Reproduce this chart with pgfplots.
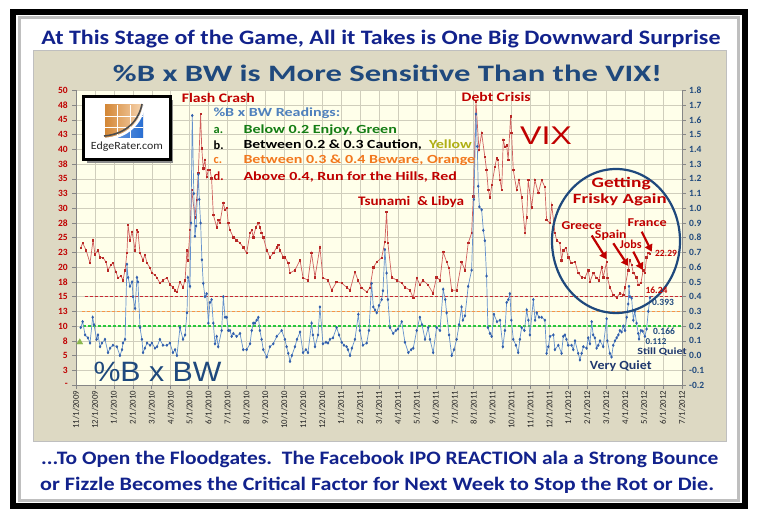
\documentclass[border=0pt]{standalone}
\usepackage{graphicx}
\usepackage{pgfplots}
\pgfplotsset{compat=1.18}
\usepackage{fontspec}
\setmainfont{Carlito}
\newfontfamily\arialf{Liberation Sans}
\usetikzlibrary{arrows.meta}

\definecolor{navyT}{RGB}{18,34,140}
\definecolor{ctitle}{RGB}{31,73,125}
\definecolor{panel}{RGB}{221,217,195}
\definecolor{plotbg}{RGB}{255,255,234}
\definecolor{gridc}{RGB}{208,206,188}
\definecolor{axisgray}{RGB}{134,134,134}
\definecolor{annred}{RGB}{192,0,0}
\definecolor{vixline}{RGB}{208,96,94}
\definecolor{vixmark}{RGB}{185,40,38}
\definecolor{bwline}{RGB}{100,145,205}
\definecolor{bwmark}{RGB}{50,95,172}
\definecolor{legblue}{RGB}{79,129,189}
\definecolor{leggreen}{RGB}{20,125,20}
\definecolor{legorange}{RGB}{242,120,30}
\definecolor{legyellow}{RGB}{175,175,20}
\definecolor{dashred}{RGB}{200,40,50}
\definecolor{dashorange}{RGB}{247,150,70}
\definecolor{dashgreen}{RGB}{40,200,60}
\definecolor{trigreen}{RGB}{140,185,80}
\definecolor{quietblue}{RGB}{31,56,110}
\definecolor{logoorange}{RGB}{235,150,60}
\definecolor{logoblue}{RGB}{40,110,210}

% set text at a size, then stretch it to a given width
\newcommand{\fitw}[3]{\resizebox{#1}{\height}{\fontsize{#2}{#2}\selectfont #3}}

\pgfplotsset{base/.style={at={(76pt,131pt)}, anchor=south west,
    width=606pt, height=294.5pt, scale only axis, xmin=0, xmax=32,
    tick align=outside, major tick length=4pt,
    tick style={draw=axisgray, line width=0.6pt},
    axis line style={draw=axisgray, line width=0.6pt}}}

\begin{document}
\begin{tikzpicture}
\useasboundingbox (0,0) rectangle (758pt,516pt);
\fill[white] (0,0) rectangle (758pt,516pt);

% frame, titles, panel
\begin{scope}[x=1pt,y=-1pt,shift={(0pt,516pt)}, every node/.style={inner sep=0pt}]
\fill[black!25] (18,16) rectangle (740,502);
\fill[white] (21,19) rectangle (737,499);
\draw[black, line width=6pt] (13,12) rectangle (745,506);
\node[anchor=base, text=navyT] at (381,45)
  {\fitw{679pt}{20.5}{\bfseries At This Stage of the Game, All it Takes is One Big Downward Surprise}};
\fill[panel] (33,50) rectangle (726,441);
\draw[black!25, line width=0.6pt] (33,50) rectangle (726,441);
\node[anchor=base, text=ctitle] at (387.5,82)
  {\fitw{549pt}{23.5}{\bfseries\%B x BW is More Sensitive Than the VIX!}};
\node[anchor=base west, text=navyT] at (41,465)
  {\fitw{677pt}{19}{\bfseries ...To Open the Floodgates.\ \ The Facebook IPO REACTION ala a Strong Bounce}};
\node[anchor=base west, text=navyT] at (40,491)
  {\fitw{674pt}{19}{\bfseries or Fizzle Becomes the Critical Factor for Next Week to Stop the Rot or Die.}};
\end{scope}

% VIX, left axis
\begin{axis}[base, ymin=0, ymax=50,
    axis background/.style={fill=plotbg},
    axis x line*=bottom, axis y line*=left,
    xtick={0,...,32},
    xticklabels={11/1/2009,12/1/2009,1/1/2010,2/1/2010,3/1/2010,4/1/2010,5/1/2010,6/1/2010,7/1/2010,8/1/2010,9/1/2010,10/1/2010,11/1/2010,12/1/2010,1/1/2011,2/1/2011,3/1/2011,4/1/2011,5/1/2011,6/1/2011,7/1/2011,8/1/2011,9/1/2011,10/1/2011,11/1/2011,12/1/2011,1/1/2012,2/1/2012,3/1/2012,4/1/2012,5/1/2012,6/1/2012,7/1/2012},
    xticklabel style={rotate=90, anchor=east, font=\fontsize{8.8}{9}\selectfont, text=black!85, inner sep=1.5pt},
    ytick={0,2.5,5,7.5,10,12.5,15,17.5,20,22.5,25,27.5,30,32.5,35,37.5,40,42.5,45,47.5,50},
    yticklabels={-,3,5,8,10,13,15,18,20,23,25,28,30,33,35,38,40,43,45,48,50},
    yticklabel style={font=\bfseries\fontsize{9.5}{10}\selectfont, text=annred, inner sep=1pt, xshift=-3pt},
    grid=major, major grid style={draw=gridc, line width=0.5pt},
]
\addplot[draw=vixline, line width=0.7pt, mark=square*, mark size=0.75pt,
    mark options={fill=vixmark, draw=vixmark}] coordinates {
(0.25,23.3) (0.35,24.1) (0.53,22.9) (0.74,20.7) (0.90,24.6) (1.00,22.2) (1.16,22.9) (1.27,21.7)
(1.43,21.6) (1.58,20.9) (1.69,19.5) (1.85,20.4) (1.95,20.7) (2.11,19.2) (2.22,18.2) (2.38,18.5)
(2.48,17.8) (2.59,19.5) (2.69,22.4) (2.75,27.2) (2.85,24.6) (2.96,26.0) (3.12,22.9) (3.22,26.3)
(3.27,26.0) (3.38,22.4) (3.54,21.2) (3.64,22.1) (3.75,20.7) (3.91,19.9) (4.01,19.0) (4.17,18.7)
(4.28,18.2) (4.43,17.3) (4.59,17.8) (4.80,18.2) (4.96,17.1) (5.12,16.6) (5.23,16.1) (5.33,15.8)
(5.49,17.5) (5.65,16.6) (5.76,17.8) (5.86,22.9) (5.91,21.2) (6.02,26.3) (6.11,33.1) (6.28,28.5)
(6.37,31.4) (6.46,36.0) (6.58,46.0) (6.64,40.2) (6.72,36.8) (6.81,38.2) (6.90,35.3) (6.99,36.5)
(7.07,36.5) (7.16,35.1) (7.25,28.9) (7.43,26.8) (7.51,28.0) (7.60,27.5) (7.78,30.9) (7.87,29.7)
(7.96,30.1) (8.04,27.5) (8.13,26.3) (8.31,25.1) (8.48,24.6) (8.66,24.1) (8.83,23.4) (9.01,22.4)
(9.19,25.8) (9.28,26.3) (9.36,25.1) (9.50,26.8) (9.63,27.5) (9.71,26.8) (9.80,25.8) (9.89,25.1)
(10.07,22.9) (10.24,21.7) (10.42,22.4) (10.60,23.4) (10.68,23.8) (10.77,22.9) (10.95,21.7) (11.03,21.7)
(11.21,20.7) (11.30,19.0) (11.56,19.5) (11.83,21.2) (11.99,18.2) (12.25,17.8) (12.44,22.4) (12.62,18.3)
(12.88,23.4) (13.04,18.2) (13.31,17.8) (13.50,16.1) (13.76,17.5) (14.03,17.3) (14.29,16.6) (14.47,16.1)
(14.73,19.2) (14.89,17.8) (15.08,16.5) (15.35,15.8) (15.52,16.5) (15.70,20.0) (15.89,20.9) (16.14,21.6)
(16.31,24.3) (16.40,29.4) (16.47,24.1) (16.67,18.3) (16.93,17.8) (17.20,17.3) (17.37,16.6) (17.63,16.1)
(17.81,14.8) (17.99,18.2) (18.16,17.0) (18.32,17.8) (18.59,17.0) (18.85,15.6) (19.04,18.3) (19.22,17.8)
(19.39,22.6) (19.57,20.9) (19.69,19.9) (19.84,16.1) (20.10,16.1) (20.36,20.9) (20.54,19.5) (20.71,24.1)
(20.89,25.8) (20.98,32.0) (21.12,48.1) (21.28,39.9) (21.42,42.8) (21.59,38.7) (21.68,36.5) (21.77,33.1)
(21.86,31.9) (21.96,34.0) (22.12,37.0) (22.21,38.5) (22.28,38.2) (22.39,34.8) (22.48,33.1) (22.56,41.6)
(22.65,40.4) (22.74,40.7) (22.82,38.2) (22.95,45.6) (23.00,42.8) (23.09,36.5) (23.27,33.1) (23.39,34.8)
(23.53,31.9) (23.71,25.8) (23.80,28.5) (23.88,34.8) (24.06,30.2) (24.23,34.8) (24.41,32.6) (24.59,34.8)
(24.76,33.6) (24.85,28.0) (25.03,27.5) (25.12,30.6) (25.29,25.8) (25.38,24.6) (25.55,24.1) (25.64,21.2)
(25.73,22.9) (25.87,23.3) (25.99,21.7) (26.17,20.7) (26.35,20.9) (26.52,19.0) (26.70,18.3) (26.87,18.2)
(27.05,19.5) (27.14,17.5) (27.31,19.0) (27.49,18.2) (27.61,17.8) (27.76,20.0) (27.84,18.3) (28.02,20.9)
(28.06,18.2) (28.19,16.6) (28.37,15.3) (28.55,14.8) (28.72,15.6) (28.90,15.3) (28.99,16.6) (29.16,19.5)
(29.25,21.2) (29.34,20.4) (29.43,19.0) (29.60,18.3) (29.69,17.0) (29.83,17.3) (29.95,19.5) (30.04,19.0)
(30.13,21.7) (30.22,22.4) (30.31,22.29)
};
\end{axis}

% %B x BW, right axis
\begin{axis}[base, ymin=-0.2, ymax=1.8,
    axis y line*=right, axis x line=none, xtick=\empty,
    ytick={-0.2,-0.1,0,0.1,0.2,0.3,0.4,0.5,0.6,0.7,0.8,0.9,1.0,1.1,1.2,1.3,1.4,1.5,1.6,1.7,1.8},
    yticklabels={-0.2,-0.1,0.0,0.1,0.2,0.3,0.4,0.5,0.6,0.7,0.8,0.9,1.0,1.1,1.2,1.3,1.4,1.5,1.6,1.7,1.8},
    yticklabel style={font=\bfseries\fontsize{9.5}{10}\selectfont, text=ctitle, inner sep=1pt, xshift=2pt},
]
\addplot[draw=dashred, line width=1.3pt, dash pattern=on 3pt off 2pt] coordinates {(0.45,0.4) (32,0.4)};
\addplot[draw=dashorange, line width=1.3pt, dash pattern=on 3pt off 2pt] coordinates {(0.30,0.3) (32,0.3)};
\addplot[draw=dashgreen, line width=1.3pt, dash pattern=on 3pt off 2pt] coordinates {(0.35,0.2) (32,0.2)};
\addplot[only marks, mark=triangle*, mark size=3.5pt, mark options={fill=trigreen, draw=trigreen}] coordinates {(0.2,0.09)};
\addplot[draw=bwline, line width=0.7pt, mark=diamond*, mark size=1.1pt,
    mark options={fill=bwmark, draw=bwmark}] coordinates {
(0.25,0.19) (0.35,0.23) (0.48,0.14) (0.63,0.12) (0.74,0.085) (0.88,0.26) (0.95,0.21) (1.09,0.11)
(1.16,0.14) (1.27,0.06) (1.37,0.085) (1.53,0.11) (1.69,0.02) (1.80,0.05) (1.95,0.07) (2.16,0.06)
(2.32,0.0) (2.43,0.04) (2.48,0.085) (2.59,0.11) (2.69,0.62) (2.75,0.53) (2.85,0.47) (2.96,0.50)
(3.01,0.40) (3.12,0.32) (3.22,0.53) (3.27,0.50) (3.38,0.19) (3.48,0.11) (3.54,0.02) (3.64,0.05)
(3.75,0.085) (3.91,0.07) (4.01,0.085) (4.17,0.05) (4.28,0.06) (4.43,0.11) (4.59,0.07) (4.80,0.07)
(4.96,0.085) (5.12,0.02) (5.23,0.04) (5.33,0.0) (5.49,0.19) (5.65,0.11) (5.76,0.14) (5.86,0.29)
(5.91,0.53) (6.02,0.47) (6.07,0.90) (6.14,1.63) (6.22,1.10) (6.28,0.81) (6.34,0.88) (6.46,1.23)
(6.51,1.06) (6.58,0.90) (6.65,0.65) (6.72,0.49) (6.81,0.40) (6.90,0.42) (6.99,0.22) (7.07,0.36)
(7.16,0.38) (7.25,0.22) (7.34,0.08) (7.43,0.13) (7.51,0.06) (7.69,0.17) (7.78,0.40) (7.87,0.26)
(7.96,0.26) (8.04,0.17) (8.13,0.17) (8.22,0.13) (8.31,0.15) (8.48,0.13) (8.66,0.15) (8.83,0.04)
(9.01,0.04) (9.19,0.08) (9.28,0.17) (9.36,0.22) (9.45,0.22) (9.54,0.24) (9.63,0.26) (9.71,0.17)
(9.80,0.11) (9.89,0.04) (10.07,-0.01) (10.24,0.06) (10.42,0.08) (10.60,0.13) (10.86,0.17) (11.03,0.11)
(11.12,0.06) (11.21,0.015) (11.30,-0.04) (11.40,0.0) (11.56,0.06) (11.67,0.11) (11.83,0.16) (11.99,0.02)
(12.14,0.04) (12.25,0.02) (12.44,0.22) (12.51,0.14) (12.62,0.06) (12.78,0.14) (12.88,0.33) (13.04,0.08)
(13.20,0.09) (13.31,0.085) (13.41,0.11) (13.57,0.12) (13.76,0.19) (13.89,0.14) (14.03,0.09) (14.15,0.07)
(14.29,0.06) (14.36,0.04) (14.47,0.0) (14.57,0.05) (14.73,0.11) (14.91,0.28) (14.99,0.17) (15.15,0.07)
(15.35,0.085) (15.47,0.17) (15.61,0.49) (15.70,0.33) (15.79,0.31) (15.88,0.29) (16.00,0.34) (16.14,0.38)
(16.21,0.44) (16.31,0.72) (16.40,0.56) (16.47,0.38) (16.58,0.19) (16.75,0.15) (16.89,0.17) (17.00,0.18)
(17.20,0.23) (17.37,0.09) (17.55,0.02) (17.70,0.04) (17.81,0.05) (17.99,0.17) (18.16,0.26) (18.27,0.21)
(18.43,0.11) (18.60,0.19) (18.69,0.11) (18.86,0.02) (19.04,0.19) (19.22,0.17) (19.39,0.45) (19.50,0.38)
(19.57,0.29) (19.70,0.14) (19.84,0.0) (19.96,0.04) (20.10,0.11) (20.23,0.21) (20.36,0.33) (20.43,0.24)
(20.54,0.27) (20.71,0.47) (20.89,0.58) (21.01,1.06) (21.12,1.64) (21.19,1.42) (21.24,1.15) (21.30,1.01)
(21.42,0.99) (21.51,0.85) (21.59,0.78) (21.68,0.54) (21.75,0.19) (21.86,0.15) (21.95,0.13) (22.07,0.28)
(22.23,0.23) (22.39,0.24) (22.54,0.06) (22.65,0.17) (22.74,0.36) (22.83,0.38) (22.91,0.42) (22.99,0.24)
(23.09,0.11) (23.23,0.07) (23.35,0.02) (23.44,0.11) (23.53,0.19) (23.68,0.17) (23.80,0.31) (23.89,0.24)
(23.97,0.14) (24.15,0.38) (24.24,0.24) (24.33,0.29) (24.45,0.26) (24.59,0.26) (24.76,0.24) (24.85,0.015)
(24.94,0.06) (25.03,0.13) (25.21,0.14) (25.29,0.04) (25.47,0.07) (25.64,0.015) (25.73,0.13) (25.82,0.14)
(25.90,0.11) (25.99,0.07) (26.17,0.07) (26.26,0.04) (26.35,0.10) (26.52,0.015) (26.61,-0.03) (26.70,0.015)
(26.79,0.06) (26.96,0.05) (27.05,0.12) (27.14,0.08) (27.23,0.23) (27.31,0.14) (27.40,0.12) (27.49,0.05)
(27.58,0.07) (27.67,0.10) (27.84,0.06) (28.02,0.25) (28.06,0.10) (28.19,0.015) (28.28,-0.01) (28.37,0.07)
(28.46,0.10) (28.55,0.12) (28.64,0.14) (28.72,0.17) (28.81,0.16) (28.90,0.20) (28.99,0.17) (29.08,0.26)
(29.16,0.35) (29.20,0.47) (29.25,0.40) (29.34,0.39) (29.43,0.24) (29.51,0.30) (29.60,0.22) (29.69,0.15)
(29.73,0.112) (29.83,0.17) (29.92,0.166) (30.04,0.13) (30.13,0.18) (30.22,0.30) (30.31,0.393)
};
\end{axis}

% annotations
\begin{scope}[x=1pt,y=-1pt,shift={(0pt,516pt)}, every node/.style={inner sep=0pt}]
% logo
\fill[black!45] (86.5,100) rectangle (173,163);
\fill[white] (83.3,96.7) rectangle (170,160);
\draw[black, line width=3pt] (83.3,96.7) rectangle (170,160);
\shade[left color=logoorange!90!black, right color=logoorange!40] (105,105) rectangle (143,138);
\shade[left color=logoblue!60, right color=logoblue] (105,138) .. controls (128,136) and (141,122) .. (143,105) -- (143,138) -- cycle;
\foreach \gx in {117.7,130.3} \draw[white, line width=0.6pt] (\gx,105) -- (\gx,138);
\foreach \gy in {116,127} \draw[white, line width=0.6pt] (105,\gy) -- (143,\gy);
\draw[white, line width=2.5pt] (105,139) .. controls (128,137) and (141,123) .. (144,106);
\draw[black!70, line width=1.6pt] (104,136) .. controls (127,134) and (139,120) .. (142,104);
\node[text=black!85] at (127,147) {\fitw{72pt}{11}{EdgeRater.com}};

% event labels
\node[text=annred] at (218.3,98) {\fitw{73pt}{13}{\bfseries Flash Crash}};
\node[text=annred] at (496.2,97) {\fitw{69pt}{13}{\bfseries Debt Crisis}};
\node[text=annred] at (411,202) {\fitw{106pt}{13}{\bfseries Tsunami\ \ \& Libya}};
\node[text=annred] at (546,136) {\fitw{52pt}{25.6}{\arialf VIX}};
\node[text=ctitle] at (157.5,372) {\fitw{128pt}{28}{\arialf\%B x BW}};

% legend text
\begin{scope}[every node/.style={inner sep=0pt, anchor=west, font=\bfseries\fontsize{12.4}{14}\selectfont}]
\node[text=legblue] at (213.3,113.3) {\fitw{126.7pt}{12.4}{\bfseries\%B x BW Readings:}};
\node[text=leggreen] at (213.5,130) {a.};
\node[text=leggreen] at (243.3,130) {\fitw{153.4pt}{12.4}{\bfseries Below 0.2 Enjoy, Green}};
\node[text=black] at (213.5,145) {b.};
\node[text=black] at (243.3,145) {\fitw{228.4pt}{12.4}{\bfseries Between 0.2 \& 0.3 Caution,\ \ \textcolor{legyellow}{Yellow}}};
\node[text=legorange] at (213.5,160.7) {c.};
\node[text=legorange] at (243.3,160.7) {\fitw{231.7pt}{12.4}{\bfseries Between 0.3 \& 0.4 Beware, Orange}};
\node[text=annred] at (213.5,176.7) {d.};
\node[text=annred] at (243.3,176.7) {\fitw{213.4pt}{12.4}{\bfseries Above 0.4, Run for the Hills, Red}};
\end{scope}

% circle and arrows
\draw[ctitle, line width=2.2pt] (616,241) ellipse [x radius=64pt, y radius=72pt];
\node[text=annred] at (621.2,184) {\fitw{59pt}{14.5}{\bfseries Getting}};
\node[text=annred] at (619.8,199.5) {\fitw{93.7pt}{14}{\bfseries Frisky Again}};
\node[text=annred] at (581.7,226) {\fitw{40pt}{12}{\bfseries Greece}};
\node[text=annred] at (647.2,222.7) {\fitw{39pt}{12}{\bfseries France}};
\node[text=annred] at (610.8,235) {\fitw{31.7pt}{12}{\bfseries Spain}};
\node[text=annred] at (630.8,244) {\fitw{21.7pt}{12}{\bfseries Jobs}};
\begin{scope}[annred, line width=2.2pt, -{Triangle[length=7pt,width=8pt]}]
\draw (591.7,235.5) -- (606.7,259.3);
\draw (613.3,243.3) -- (628.3,266);
\draw (633.3,251.7) -- (642.7,270);
\draw (641.7,231.7) -- (651.7,251.7);
\end{scope}

% value labels
\node[text=annred, font=\bfseries\fontsize{9.5}{10}\selectfont] at (666,253) {22.29};
\node[text=annred, font=\bfseries\fontsize{9.5}{10}\selectfont] at (656.5,290) {16.24};
\node[text=ctitle, font=\bfseries\fontsize{9.5}{10}\selectfont] at (663,302) {0.393};
\node[text=ctitle, font=\bfseries\fontsize{9.5}{10}\selectfont] at (664,331.5) {0.166};
\node[text=ctitle, font=\bfseries\fontsize{9}{10}\selectfont] at (656,341.5) {0.112};
\node[text=quietblue] at (662,351.5) {\fitw{49.4pt}{9.5}{\bfseries Still Quiet}};
\node[text=quietblue] at (620.8,365.7) {\fitw{61.7pt}{12.5}{\bfseries Very Quiet}};
\end{scope}
\end{tikzpicture}
\end{document}
